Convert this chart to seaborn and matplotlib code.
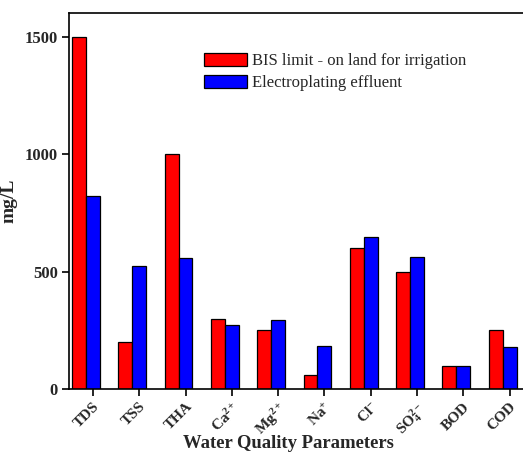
import numpy as np
import pandas as pd
import matplotlib
matplotlib.use("Agg")
import matplotlib.pyplot as plt
import seaborn as sns

# Water quality parameters (mg/L)
parameters = ["TDS", "TSS", "THA", "Ca", "Mg", "Na", "Cl", "SO4", "BOD", "COD"]
tick_labels = ["TDS", "TSS", "THA", r"Ca$^{2+}$", r"Mg$^{2+}$", r"Na$^{+}$",
               r"Cl$^{-}$", r"SO$_4^{2-}$", "BOD", "COD"]
bis_limit = [1500, 200, 1000, 300, 250, 60, 600, 500, 100, 250]
effluent = [822, 523, 558, 272, 292, 185, 648, 563, 97, 180]
series_names = ["BIS limit - on land for irrigation", "Electroplating effluent"]

df = pd.DataFrame({
    "parameter": parameters * 2,
    "value": bis_limit + effluent,
    "series": [series_names[0]] * len(parameters) + [series_names[1]] * len(parameters),
})

sns.set_theme(style="ticks")
plt.rcParams["font.family"] = ["Liberation Serif", "DejaVu Serif"]
plt.rcParams["mathtext.fontset"] = "custom"
plt.rcParams["mathtext.rm"] = "Liberation Serif:bold"
plt.rcParams["mathtext.it"] = "Liberation Serif:bold"
plt.rcParams["mathtext.bf"] = "Liberation Serif:bold"

fig = plt.figure(figsize=(5.23, 4.54), dpi=100)
ax = fig.add_axes([69 / 523, 1 - 389 / 454, 1 - 69 / 523, (389 - 13) / 454])

sns.barplot(data=df, x="parameter", y="value", hue="series",
            palette=["#FF0000", "#0000FF"], width=0.6, gap=0,
            edgecolor="black", linewidth=0.9, saturation=1, ax=ax)

ax.set_xlim(-0.367, 9.44)
ax.set_ylim(0, 1602)
ax.set_yticks([0, 500, 1000, 1500])
ax.set_yticklabels(["0", "500", "1000", "1500"], fontsize=12, fontweight="bold")

xpos = np.arange(len(parameters)) + 0.15
ax.set_xticks(xpos)
ax.set_xticklabels(tick_labels, rotation=45, ha="right", va="top",
                   rotation_mode="anchor", fontsize=11, fontweight="bold")

ax.tick_params(axis="both", direction="out", length=5, width=1.2, color="black", pad=3)
ax.tick_params(axis="x", pad=3)
for side in ["left", "bottom", "top"]:
    ax.spines[side].set_linewidth(1.2)
    ax.spines[side].set_color("black")
ax.spines["right"].set_visible(False)
ax.spines["top"].set_visible(True)

ax.set_xlabel("Water Quality Parameters", fontsize=13.4, fontweight="bold",
              va="baseline")
ax.xaxis.set_label_coords((288 - 69) / 454, -(448 - 389) / 376)
ax.set_ylabel("mg/L", fontsize=14, fontweight="bold")
ax.yaxis.set_label_coords(-(69 - 18) / 454, 0.5)

leg = ax.legend(loc="upper left", bbox_to_anchor=((197 - 69) / 454, 1 - (46 - 13) / 376),
                frameon=False, fontsize=12, handlelength=2.6, handleheight=0.85,
                handletextpad=0.3, labelspacing=0.35, borderaxespad=0)
for t in leg.get_texts():
    t.set_fontweight("normal")

fig.savefig("out.png", dpi=100)
